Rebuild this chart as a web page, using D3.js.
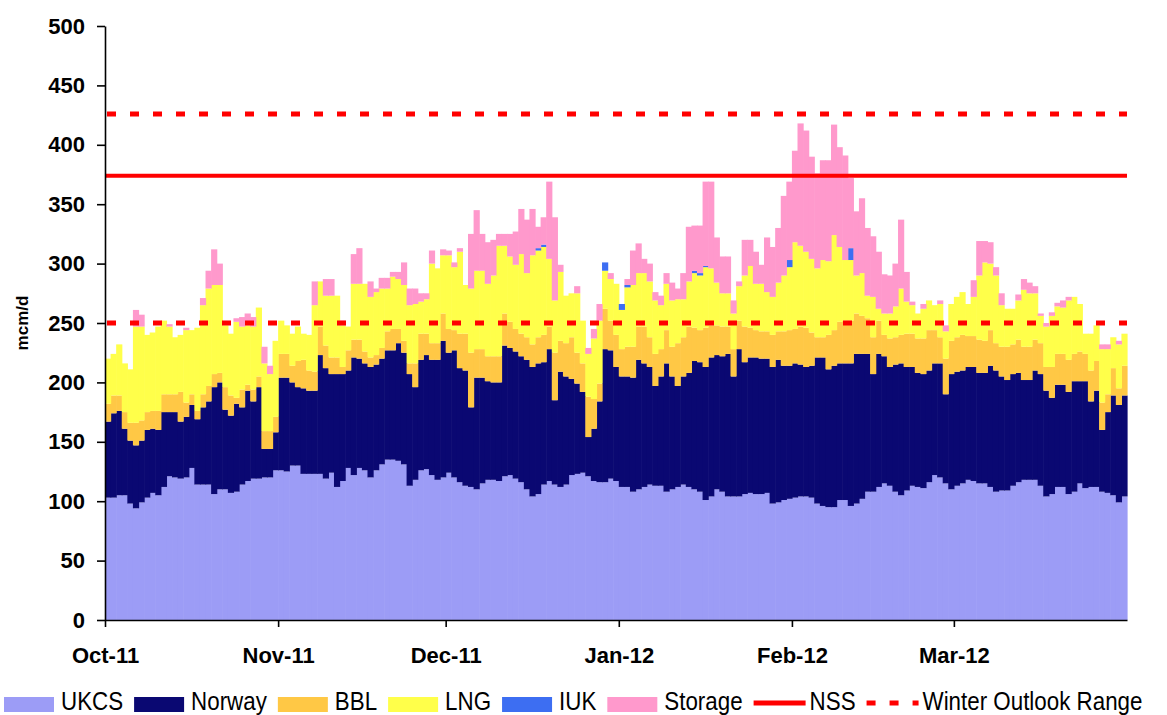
<!DOCTYPE html>
<html>
<head>
<meta charset="utf-8">
<script src="https://cdn.jsdelivr.net/npm/d3@7"></script>
<style>
	body { margin: 0; background: #fff; }
	text { font-family: "Liberation Sans", Arial, sans-serif; }
</style>
</head>
<body>
<div id="chart"></div>
<script>

// Daily gas supply, mcm/d, 1 Oct 2011 - 31 Mar 2012
const ukcs = [
	103,103,105,105,98,94,99,103,107,105,112,121,120,119,120,128,114,114,114,106,110,110,107,108,114,117,119,119,120,120,126,
	126,125,130,130,123,123,123,123,119,124,112,117,128,122,128,126,120,126,131,135,135,134,131,113,118,126,127,122,118,120,
	124,120,116,113,112,110,115,118,118,117,121,122,119,116,110,104,106,114,117,114,112,114,122,123,124,121,117,116,116,119,117,
	112,112,108,110,112,114,113,113,108,110,112,114,112,110,108,101,104,110,108,104,104,104,106,107,106,106,107,98,99,101,102,
	103,104,104,103,98,96,95,95,101,101,96,98,102,108,108,112,115,113,108,105,109,113,112,111,116,122,120,115,110,
	113,115,118,117,115,115,112,108,109,109,113,116,118,118,118,113,104,106,112,112,106,108,115,111,112,112,108,107,105,99,104
];
const norway = [
	64,71,71,56,53,53,52,57,54,55,63,54,55,48,51,53,55,65,70,90,90,67,65,74,65,76,65,77,24,24,32,
	78,79,70,66,72,70,70,100,93,83,95,90,82,99,92,90,93,89,89,92,92,99,94,94,78,93,96,97,101,115,
	101,107,96,97,67,94,89,83,82,83,110,107,107,106,109,109,110,103,111,71,97,91,81,76,68,33,44,68,112,108,96,
	93,93,96,109,104,99,84,92,108,95,85,91,96,108,109,112,117,113,114,120,101,124,111,114,115,114,113,115,120,113,112,
	113,111,109,111,123,125,116,119,115,115,120,126,122,116,99,112,107,100,107,111,104,100,96,96,94,94,96,75,97,
	96,95,95,96,93,93,102,102,96,93,94,92,84,84,92,94,89,81,86,86,86,93,86,90,72,81,52,68,84,82,85
];
const bbl = [
	15,15,13,14,15,19,17,15,15,16,15,15,15,25,12,9,7,11,13,11,8,19,17,5,15,5,10,9,15,15,13,
	20,20,14,22,24,17,16,24,19,14,14,6,17,15,16,10,8,8,9,16,18,12,10,9,20,22,18,14,14,23,
	20,17,29,31,46,24,24,21,22,22,27,22,19,19,19,19,22,23,19,40,26,28,35,26,24,34,25,15,34,25,27,
	23,25,26,28,31,25,27,23,28,25,36,33,39,28,27,33,27,25,25,23,23,24,30,25,23,23,23,27,24,29,30,
	29,32,33,28,17,17,29,30,35,36,36,34,32,30,31,28,18,24,23,24,28,28,29,30,34,28,22,30,28,
	29,30,26,26,28,27,30,23,25,28,25,28,28,28,26,26,20,26,26,26,27,23,25,23,26,25,23,15,23,14,25
];
const lng = [
	38,35,43,41,45,81,79,65,66,71,62,57,48,48,61,54,70,75,82,75,74,52,52,64,53,50,53,58,57,48,64,
	28,24,27,29,22,30,56,38,42,52,52,35,20,47,47,57,51,53,50,36,44,42,47,49,50,27,29,67,63,49,
	62,53,69,41,54,66,66,61,68,93,57,55,54,67,54,75,73,74,57,44,58,40,37,50,36,36,51,53,32,35,43,
	33,50,52,45,45,47,45,37,39,39,37,32,38,46,46,51,48,36,28,28,30,29,43,52,39,40,33,32,41,47,53,
	73,68,64,62,58,65,62,80,63,51,51,32,36,19,34,10,18,21,26,39,27,24,21,25,25,21,28,23,31,
	34,36,27,33,54,66,56,57,35,32,30,33,48,45,39,23,34,43,40,39,50,48,40,17,31,30,45,38,26,37,27
];
const iuk = [
	0,0,0,0,0,0,0,0,0,0,0,0,0,0,0,0,0,0,0,0,0,0,0,0,0,0,0,0,0,0,0,
	0,0,0,0,0,0,0,0,0,0,0,0,0,0,0,0,0,0,0,0,0,0,0,0,0,0,0,0,0,0,
	0,0,0,0,0,0,0,0,0,0,0,0,0,0,0,0,2,2,0,0,0,0,0,0,0,0,0,0,7,0,0,
	5,2,0,0,0,0,0,0,0,0,0,0,0,2,2,1,0,0,0,0,0,0,0,0,0,0,0,0,0,0,6,
	0,0,0,0,0,0,0,0,0,0,10,0,0,0,0,0,0,0,0,0,0,0,0,0,0,0,0,0,0,
	0,0,0,0,0,0,0,0,0,0,0,0,0,0,0,0,0,0,0,0,0,0,0,0,0,0,0,0,0,0,0
];
const storage = [
	0,0,0,0,0,14,10,0,0,0,0,2,0,0,2,0,0,6,15,30,18,0,0,3,8,10,8,0,14,7,0,
	0,0,0,0,0,0,20,0,14,14,0,4,0,25,30,0,13,3,9,9,4,6,19,14,13,7,5,11,0,5,
	4,4,3,0,46,51,31,35,30,10,10,19,28,38,45,39,18,23,65,70,6,0,0,6,0,5,8,14,0,5,0,
	0,5,29,25,12,15,7,8,9,15,9,22,46,38,40,71,73,38,31,31,11,4,30,22,27,16,46,42,46,67,66,
	77,103,102,86,80,84,85,93,84,88,59,54,63,57,51,48,33,32,36,58,25,3,0,4,0,0,3,5,0,
	0,0,0,14,29,18,18,7,10,0,0,5,9,9,6,2,3,3,3,6,3,0,0,0,0,0,4,4,0,3,0
];

const seriesNames = ["UKCS", "Norway", "BBL", "LNG", "IUK", "Storage"];
const seriesColors = ["#9c9cf6", "#0a0872", "#ffc845", "#ffff4a", "#3d6ef2", "#ff99cc"];

const monthLabels = ["Oct-11", "Nov-11", "Dec-11", "Jan-12", "Feb-12", "Mar-12"];
const yTicks = [0, 50, 100, 150, 200, 250, 300, 350, 400, 450, 500];

const nss = 374;
const outlookRange = [250, 426];

const width = 1167;
const height = 715;
const margin = {left: 105, right: 40, top: 26, bottom: 95};

const days = d3.timeDay.range(new Date(2011, 9, 1), new Date(2012, 3, 1));
const months = d3.timeMonth.range(new Date(2011, 9, 1), new Date(2012, 3, 1));

const table = days.map((d, i) => ({
	UKCS: ukcs[i], Norway: norway[i], BBL: bbl[i], LNG: lng[i], IUK: iuk[i], Storage: storage[i]
}));

const stacked = d3.stack().keys(seriesNames)(table);

const svg = d3
	.select("#chart")
	.append("svg")
	.attr("width", width)
	.attr("height", height)
	.style("background", "#fff");

const x = d3.scaleLinear()
	.domain([0, days.length])
	.range([margin.left, width - margin.right]);

const y = d3.scaleLinear()
	.domain([0, 500])
	.range([height - margin.bottom, margin.top]);

const color = d3.scaleOrdinal(seriesNames, seriesColors);

// stacked daily bars, a bit of overlap so no seams show between days
svg.append("g")
	.selectAll("g")
	.data(stacked)
	.enter()
	.append("g")
	.attr("fill", s => color(s.key))
	.selectAll("rect")
	.data(s => s)
	.enter()
	.append("rect")
	.attr("x", (d, i) => x(i))
	.attr("width", (d, i) => x(i + 1) - x(i) + 0.6)
	.attr("y", d => y(d[1]))
	.attr("height", d => Math.max(0, y(d[0]) - y(d[1])));

// NSS and winter outlook range
svg.append("line")
	.attr("x1", x(0)).attr("x2", x(days.length))
	.attr("y1", y(nss)).attr("y2", y(nss))
	.attr("stroke", "#ff0000")
	.attr("stroke-width", 4);

svg.append("g")
	.selectAll("line")
	.data(outlookRange)
	.enter()
	.append("line")
	.attr("x1", x(0) + 2).attr("x2", x(days.length))
	.attr("y1", d => y(d)).attr("y2", d => y(d))
	.attr("stroke", "#ff0000")
	.attr("stroke-width", 5)
	.attr("stroke-dasharray", "9,14");

// axes
const monthIdx = months.map(m => d3.timeDay.count(days[0], m));

const xAxis = svg.append("g")
	.attr("transform", `translate(0,${y(0)})`)
	.call(d3.axisBottom(x)
		.tickValues(monthIdx)
		.tickFormat((d, i) => monthLabels[i])
		.tickSizeInner(7)
		.tickSizeOuter(0)
		.tickPadding(20));

const yAxis = svg.append("g")
	.attr("transform", `translate(${x(0)},0)`)
	.call(d3.axisLeft(y)
		.tickValues(yTicks)
		.tickSizeInner(8)
		.tickSizeOuter(0)
		.tickPadding(12));

[xAxis, yAxis].forEach(a => {
	a.select(".domain").attr("stroke", "#000").attr("stroke-width", 1.6);
	a.selectAll(".tick line").attr("stroke", "#000").attr("stroke-width", 1.6);
	a.selectAll(".tick text")
		.attr("fill", "#000")
		.attr("font-size", 22)
		.attr("font-weight", "bold")
		.style("font-family", "'Liberation Sans', Arial, sans-serif");
});

svg.append("text")
	.attr("transform", `translate(28,${(y(0) + y(500)) / 2}) rotate(-90)`)
	.attr("text-anchor", "middle")
	.attr("font-size", 17)
	.attr("font-weight", "bold")
	.text("mcm/d");

// legend along the bottom, text is a little condensed like the original
const legendItems = seriesNames.map((n, i) => ({name: n, type: "box", color: seriesColors[i]}))
	.concat([
		{name: "NSS", type: "line", color: "#ff0000"},
		{name: "Winter Outlook Range", type: "dash", color: "#ff0000"}
	]);

const legend = svg.append("g");
let lx = 4;
const ly = 703;
legendItems.forEach(item => {
	if(item.type == "box") {
		legend.append("rect")
			.attr("x", lx).attr("y", ly - 6)
			.attr("width", 50).attr("height", 15)
			.attr("fill", item.color);
	} else {
		legend.append("line")
			.attr("x1", lx).attr("x2", lx + 52)
			.attr("y1", ly).attr("y2", ly)
			.attr("stroke", item.color)
			.attr("stroke-width", 5)
			.attr("stroke-dasharray", item.type == "dash" ? "9,14" : null);
	}
	lx += item.type == "box" ? 57 : 56;
	const t = legend.append("text")
		.attr("transform", `translate(${lx},${ly + 7}) scale(0.86,1)`)
		.attr("font-size", 26)
		.attr("fill", "#000")
		.text(item.name);
	lx += t.node().getComputedTextLength() * 0.86 + 11;
});

</script>
</body>
</html>
